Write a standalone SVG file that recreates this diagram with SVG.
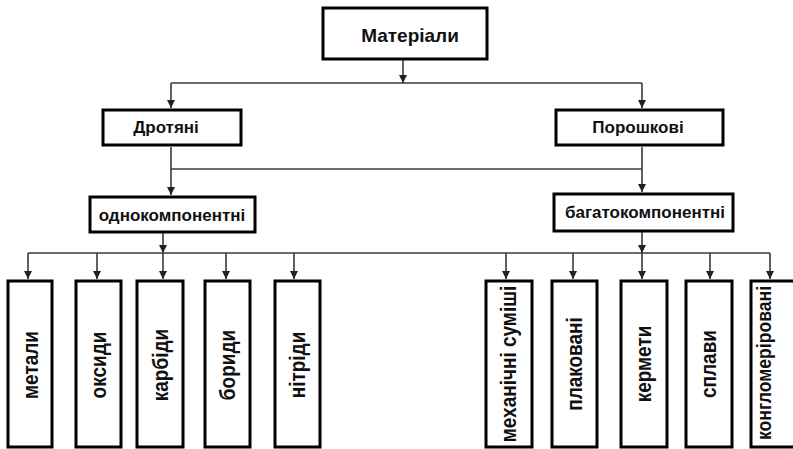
<svg xmlns="http://www.w3.org/2000/svg" width="793" height="449" viewBox="0 0 793 449">
<style>
.box{fill:#fff;stroke:#000;stroke-width:3}
.t{font-family:"Liberation Sans",Arial,sans-serif;font-weight:bold;fill:#111;text-anchor:middle}
.h{font-size:17px}
.v{font-size:19px}
.c{fill:none;stroke:#3a3a3a;stroke-width:1.6}
</style>
<defs>
<marker id="ah" markerUnits="userSpaceOnUse" markerWidth="8" markerHeight="9" refX="8" refY="4" orient="auto">
<path d="M0,0 L8,4 L0,8 z" fill="#222"/>
</marker>
</defs>
<rect width="793" height="449" fill="#fff"/>
<g id="connectors">
<path class="c" d="M403,60 V83" marker-end="url(#ah)"/>
<path class="c" d="M171,83 H642"/>
<path class="c" d="M171,83 V108" marker-end="url(#ah)"/>
<path class="c" d="M642,83 V108" marker-end="url(#ah)"/>
<path class="c" d="M171,147 V195" marker-end="url(#ah)"/>
<path class="c" d="M171,169 H642"/>
<path class="c" d="M642,147 V192" marker-end="url(#ah)"/>
<path class="c" d="M163,233 V253" marker-end="url(#ah)"/>
<path class="c" d="M642,232 V253" marker-end="url(#ah)"/>
<path class="c" d="M28,253 H770"/>
<path class="c" d="M28,253 V279" marker-end="url(#ah)"/>
<path class="c" d="M97,253 V279" marker-end="url(#ah)"/>
<path class="c" d="M163,253 V279" marker-end="url(#ah)"/>
<path class="c" d="M226,253 V279" marker-end="url(#ah)"/>
<path class="c" d="M294,253 V279" marker-end="url(#ah)"/>
<path class="c" d="M506,253 V279" marker-end="url(#ah)"/>
<path class="c" d="M573,253 V279" marker-end="url(#ah)"/>
<path class="c" d="M642,253 V279" marker-end="url(#ah)"/>
<path class="c" d="M710,253 V279" marker-end="url(#ah)"/>
<path class="c" d="M770,253 V279" marker-end="url(#ah)"/>
</g>
<g id="materialy"><rect class="box" x="323" y="8" width="164" height="51"/><text class="t" x="410" y="42" font-size="19">Матеріали</text></g>
<g id="drotiani"><rect class="box" x="103" y="110" width="138" height="35"/><text class="t h" x="166" y="133">Дротяні</text></g>
<g id="poroshkovi"><rect class="box" x="556" y="110" width="167" height="35"/><text class="t h" x="638" y="133">Порошкові</text></g>
<g id="odnokomp"><rect class="box" x="90" y="197" width="165" height="35"/><text class="t h" x="172" y="221">однокомпонентні</text></g>
<g id="bahatokomp"><rect class="box" x="554" y="194" width="179" height="37"/><text class="t h" x="645" y="218">багатокомпонентні</text></g>
<g id="metaly"><rect class="box" x="8" y="281" width="44" height="166"/><text class="t v" transform="translate(38,365) rotate(-90) scale(1,1.18)">метали</text></g>
<g id="oksydy"><rect class="box" x="76" y="281" width="45" height="166"/><text class="t v" transform="translate(106,365) rotate(-90) scale(1,1.18)">оксиди</text></g>
<g id="karbidy"><rect class="box" x="137" y="281" width="46" height="166"/><text class="t v" transform="translate(168,365) rotate(-90) scale(1,1.18)">карбіди</text></g>
<g id="borydy"><rect class="box" x="205" y="281" width="45" height="166"/><text class="t v" transform="translate(235,365) rotate(-90) scale(1,1.18)">бориди</text></g>
<g id="nitridy"><rect class="box" x="275" y="281" width="45" height="166"/><text class="t v" transform="translate(305,365) rotate(-90) scale(1,1.18)">нітріди</text></g>
<g id="mekh"><rect class="box" x="486" y="281" width="46" height="166"/><text class="t v" transform="translate(516,364) rotate(-90) scale(1,1.18)">механічні суміші</text></g>
<g id="plak"><rect class="box" x="552" y="281" width="45" height="166"/><text class="t v" transform="translate(582,364) rotate(-90) scale(1,1.18)">плаковані</text></g>
<g id="kermety"><rect class="box" x="621" y="281" width="46" height="166"/><text class="t v" transform="translate(651,364) rotate(-90) scale(1,1.18)">кермети</text></g>
<g id="splavy"><rect class="box" x="686" y="281" width="46" height="166"/><text class="t v" transform="translate(716,364) rotate(-90) scale(1,1.18)">сплави</text></g>
<g id="konhl"><rect class="box" x="751" y="281" width="46" height="166"/><text class="t" font-size="17.6" transform="translate(771,363) rotate(-90) scale(1,1.18)">конгломеріровані</text></g>
</svg>
